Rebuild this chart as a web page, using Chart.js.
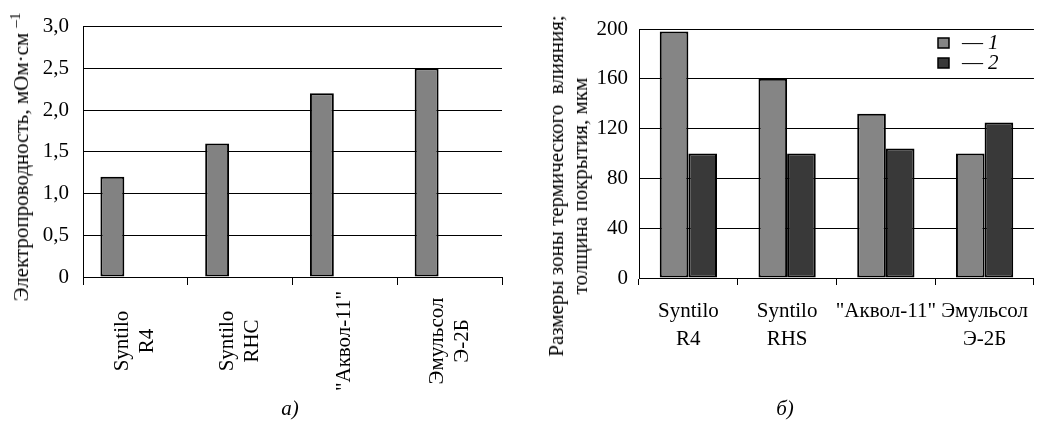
<!DOCTYPE html>
<html>
<head>
<meta charset="utf-8">
<script src="https://cdn.jsdelivr.net/npm/chart.js@4/dist/chart.umd.min.js"></script>
<style>
  body { margin: 0; background: #fff; width: 1040px; height: 424px; position: relative; overflow: hidden;
         font-family: 'Liberation Serif', 'Times New Roman', serif; color: #000; }
  .box { position: absolute; top: 0; width: 520px; height: 424px; }
  .yt { position: absolute; white-space: nowrap; font-size: 21px; line-height: 24px; text-align: center;
        transform: translate(-50%, -50%) rotate(-90deg); }
  .yt sup { font-size: 15px; }
  .cap { position: absolute; top: 396px; font-size: 21px; font-style: italic; transform: translateX(-50%); }
</style>
</head>
<body>
<div class="box" style="left:0"><canvas id="chartA" width="520" height="424"></canvas></div>
<div class="box" style="left:520px"><canvas id="chartB" width="520" height="424"></canvas></div>
<div class="yt" style="left:18px; top:157px">Электропроводность, мОм·см <sup>–1</sup></div>
<div class="yt" style="left:568px; top:186px">Размеры зоны термического&nbsp; влияния;<br>толщина покрытия, мкм</div>
<div class="cap" style="left:290px">а)</div>
<div class="cap" style="left:785px">б)</div>
<script>
Chart.defaults.color = '#000';
Chart.defaults.font.family = "'Liberation Serif', 'Times New Roman', serif";
Chart.defaults.font.size = 21;
Chart.defaults.animation = false;

// (a) conductivity
const labelsA = [['Syntilo', 'R4'], ['Syntilo', 'RHC'], ['"Аквол-11"'], ['Эмульсол', 'Э-2Б']];
const conductivity = [1.2, 1.6, 2.2, 2.5];
const emptySeries = [null, null, null, null]; // second (empty) series keeps the bars off-centre
const yTicksA = ['0', '0,5', '1,0', '1,5', '2,0', '2,5', '3,0'];

// (b) heat zone / coating thickness
const labelsB = [['Syntilo', 'R4'], ['Syntilo', 'RHS'], ['"Аквол-11"'], ['Эмульсол', 'Э-2Б']];
const heatZone = [198, 160, 132, 100];
const coating = [100, 100, 104, 125];
const yTicksB = ['0', '40', '80', '120', '160', '200'];

// vertical, centred category labels under chart (a)
const rotatedLabels = {
    id: 'rotatedLabels',
    afterDraw(chart) {
        const sx = chart.scales.x, ctx = chart.ctx;
        ctx.save();
        ctx.font = "21px 'Liberation Serif'";
        ctx.fillStyle = '#000';
        ctx.textAlign = 'center';
        ctx.textBaseline = 'middle';
        chart.data.labels.forEach((lab, i) => {
            const lines = [].concat(lab);
            const px = sx.getPixelForTick(i);
            lines.forEach((t, j) => {
                ctx.save();
                ctx.translate(px + (j - (lines.length - 1) / 2) * 25, 341);
                ctx.rotate(-Math.PI / 2);
                ctx.fillText(t, 0, 0);
                ctx.restore();
            });
        });
        ctx.restore();
    }
};

// small legend in the top right corner of chart (b)
const boxLegend = {
    id: 'boxLegend',
    afterDraw(chart) {
        const ctx = chart.ctx;
        ctx.save();
        ctx.textBaseline = 'middle';
        chart.data.datasets.forEach((ds, i) => {
            const y = 43 + i * 20;
            ctx.fillStyle = ds.backgroundColor;
            ctx.fillRect(418, y - 5, 11, 10);
            ctx.strokeStyle = '#000';
            ctx.lineWidth = 1.5;
            ctx.strokeRect(418, y - 5, 11, 10);
            ctx.fillStyle = '#000';
            ctx.font = "21px 'Liberation Serif'";
            ctx.fillText('— ', 442, y);
            ctx.font = "italic 21px 'Liberation Serif'";
            ctx.fillText(ds.label, 442 + ctx.measureText('— ').width + 2, y);
        });
        ctx.restore();
    }
};

new Chart(document.getElementById('chartA'), {
    type: 'bar',
    data: {
        labels: labelsA,
        datasets: [{
            data: conductivity,
            backgroundColor: '#828282',
            borderColor: '#000',
            borderWidth: 2,
            borderSkipped: false,
        }, {
            data: emptySeries,
        }]
    },
    options: {
        responsive: false,
        layout: { padding: { top: 24, right: 18, left: 0, bottom: 0 } },
        plugins: { legend: { display: false }, tooltip: { enabled: false } },
        datasets: { bar: { categoryPercentage: 0.878, barPercentage: 0.52 } },
        scales: {
            x: {
                grid: { offset: true, drawOnChartArea: false, color: '#000', tickLength: 8 },
                border: { color: '#000' },
                ticks: { display: false },
                afterFit: s => { s.height = 147; }
            },
            y: {
                min: 0, max: 3,
                ticks: { stepSize: 0.5, padding: 14, callback: (v, i) => yTicksA[i] },
                grid: { color: '#000', drawTicks: false },
                border: { color: '#000' },
                afterFit: s => { s.width = 83; }
            }
        }
    },
    plugins: [rotatedLabels]
});

new Chart(document.getElementById('chartB'), {
    type: 'bar',
    data: {
        labels: labelsB,
        datasets: [{
            label: '1',
            data: heatZone,
            backgroundColor: '#858585',
            borderColor: '#000',
            borderWidth: 2,
            borderSkipped: false,
        }, {
            label: '2',
            data: coating,
            backgroundColor: '#393939',
            borderColor: '#000',
            borderWidth: 2,
            borderSkipped: false,
        }]
    },
    options: {
        responsive: false,
        layout: { padding: { top: 29, right: 0, left: 0, bottom: 0 } },
        plugins: { legend: { display: false }, tooltip: { enabled: false } },
        datasets: { bar: { categoryPercentage: 0.58, barPercentage: 1 } },
        scales: {
            x: {
                grid: { offset: true, drawOnChartArea: false, color: '#000', tickLength: 7 },
                border: { color: '#000' },
                ticks: { maxRotation: 0, autoSkip: false, padding: 12, font: { size: 21, lineHeight: '28px' } },
                afterFit: s => { s.height = 146; }
            },
            y: {
                min: 0, max: 200,
                ticks: { stepSize: 40, padding: 11, callback: (v, i) => yTicksB[i] },
                grid: { color: '#000', drawTicks: false },
                border: { color: '#000' },
                afterFit: s => { s.width = 119; }
            }
        }
    },
    plugins: [boxLegend]
});
</script>
</body>
</html>
